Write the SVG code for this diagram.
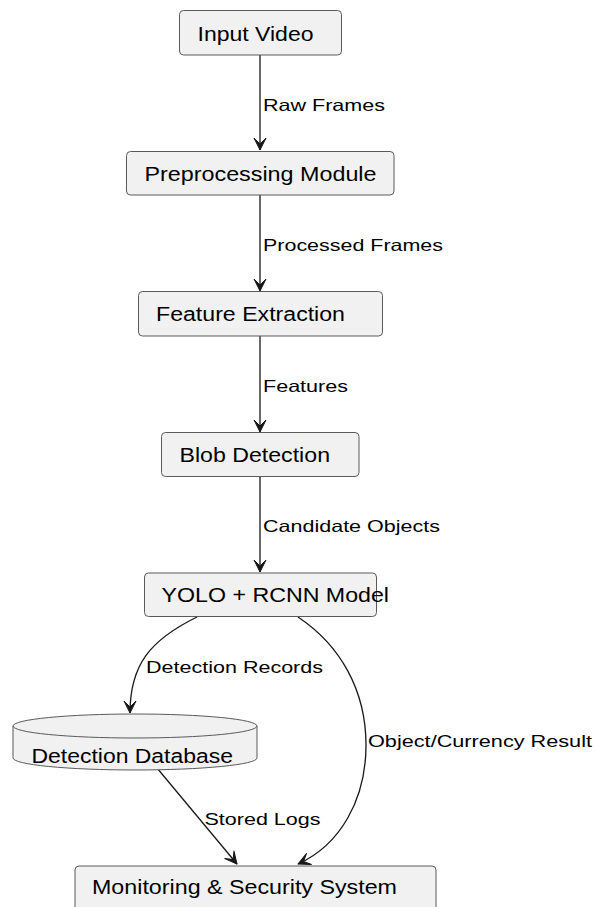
<svg xmlns="http://www.w3.org/2000/svg" width="597" height="907" viewBox="0 0 597 907">
<style>
.node{fill:#F1F1F1;stroke:#5a5a5a;stroke-width:1}
.nt{font-family:"Liberation Sans",Arial,sans-serif;font-size:20px;fill:#000}
.et{font-family:"Liberation Sans",Arial,sans-serif;font-size:16.5px;fill:#000}
.edge{fill:none;stroke:#181818;stroke-width:1.3}
</style>
<defs>
<marker id="arr" markerUnits="userSpaceOnUse" markerWidth="18" markerHeight="18" viewBox="-15 -9 18 18" refX="0" refY="0" orient="auto">
<polygon points="0,0 -12,-6 -6,0 -12,6" fill="#181818" stroke="#181818" stroke-width="1" stroke-linejoin="round"/>
</marker>
</defs>
<g id="connectors">
<path class="edge" d="M260,55 L260,150" marker-end="url(#arr)"/>
<text class="et" x="263" y="110.5" textLength="122" lengthAdjust="spacingAndGlyphs">Raw Frames</text>
<path class="edge" d="M260,195 L260,291" marker-end="url(#arr)"/>
<text class="et" x="263" y="251" textLength="180" lengthAdjust="spacingAndGlyphs">Processed Frames</text>
<path class="edge" d="M260,336 L260,432" marker-end="url(#arr)"/>
<text class="et" x="263" y="391.5" textLength="85" lengthAdjust="spacingAndGlyphs">Features</text>
<path class="edge" d="M260,477 L260,572" marker-end="url(#arr)"/>
<text class="et" x="263" y="531.5" textLength="177" lengthAdjust="spacingAndGlyphs">Candidate Objects</text>
<path class="edge" d="M197,617 C150,640 130,665 130,713" marker-end="url(#arr)"/>
<text class="et" x="146" y="672.5" textLength="177" lengthAdjust="spacingAndGlyphs">Detection Records</text>
<path class="edge" d="M298,617 C340,645 366,690 366,745 C366,800 340,845 298,864" marker-end="url(#arr)"/>
<text class="et" x="368" y="746.5" textLength="224" lengthAdjust="spacingAndGlyphs">Object/Currency Result</text>
<path class="edge" d="M157,768 L237,864" marker-end="url(#arr)"/>
<text class="et" x="204.5" y="824.5" textLength="116" lengthAdjust="spacingAndGlyphs">Stored Logs</text>
</g>
<g id="input-video">
<rect class="node" x="179.5" y="10.5" width="162" height="44.5" rx="4"/>
<text class="nt" x="197.5" y="40.5" textLength="116" lengthAdjust="spacingAndGlyphs">Input Video</text>
</g>
<g id="preprocessing">
<rect class="node" x="126.5" y="151.5" width="267.5" height="43.5" rx="4"/>
<text class="nt" x="144.5" y="181" textLength="232" lengthAdjust="spacingAndGlyphs">Preprocessing Module</text>
</g>
<g id="feature-extraction">
<rect class="node" x="138.5" y="291.5" width="244" height="44.5" rx="4"/>
<text class="nt" x="156" y="321" textLength="189" lengthAdjust="spacingAndGlyphs">Feature Extraction</text>
</g>
<g id="blob-detection">
<rect class="node" x="161.5" y="432.5" width="197.5" height="44" rx="4"/>
<text class="nt" x="179.5" y="462" textLength="150.5" lengthAdjust="spacingAndGlyphs">Blob Detection</text>
</g>
<g id="yolo-rcnn">
<rect class="node" x="144.5" y="573" width="232" height="43.5" rx="4"/>
<text class="nt" x="161.5" y="602" textLength="227.5" lengthAdjust="spacingAndGlyphs">YOLO + RCNN Model</text>
</g>
<g id="detection-database">
<path class="node" d="M13,726 A122,12 0 0 1 257,726 L257,758 A122,12 0 0 1 13,758 Z"/>
<path class="node" d="M13,726 A122,12 0 0 0 257,726" fill="none"/>
<text class="nt" x="31.5" y="763" textLength="201.5" lengthAdjust="spacingAndGlyphs">Detection Database</text>
</g>
<g id="monitoring">
<rect class="node" x="75" y="866" width="361" height="60" rx="4"/>
<text class="nt" x="92" y="894" textLength="305" lengthAdjust="spacingAndGlyphs">Monitoring &amp; Security System</text>
</g>
</svg>
